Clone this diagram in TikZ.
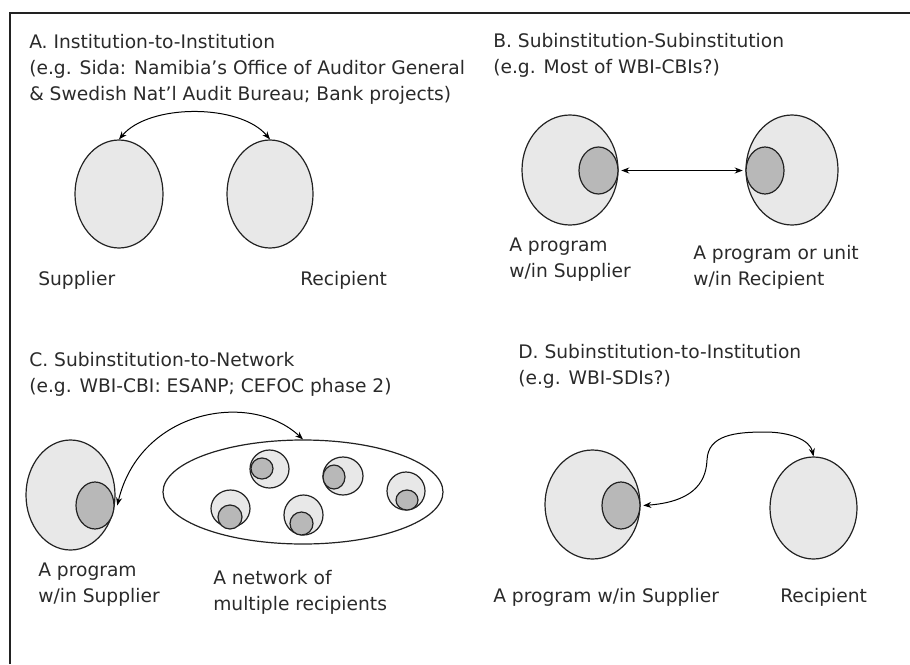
\documentclass[tikz,border=0pt]{standalone}
\usepackage{fontspec}
\setmainfont{DejaVu Sans}
\usetikzlibrary{shapes.geometric,arrows.meta}
\definecolor{lightg}{HTML}{E8E8E8}
\definecolor{darkg}{HTML}{B8B8B8}
\definecolor{inkc}{HTML}{222222}
\definecolor{txtc}{HTML}{2A2A2A}
\tikzset{
  outerell/.style={ellipse, draw=inkc, line width=0.9pt, fill=lightg, inner sep=0pt},
  innerell/.style={ellipse, draw=inkc, line width=0.9pt, fill=darkg, inner sep=0pt},
  netell/.style={ellipse, draw=inkc, line width=0.9pt, fill=white, inner sep=0pt},
  lbl/.style={anchor=base west, inner sep=0pt, align=left, text=txtc,
    font=\fontsize{14}{19.5}\selectfont},
  link/.style={draw=black, line width=0.75pt, {Stealth[length=6pt,width=4.5pt]}-{Stealth[length=6pt,width=4.5pt]}},
  framel/.style={draw=inkc, line width=1.5pt}
}
\begin{document}
\begin{tikzpicture}[x=0.75pt,y=-0.75pt]
\useasboundingbox (0,0) rectangle (910,664);
\draw[framel] (10,664) -- (10,13) -- (910,13);

% Panel A (multi-line nodes: base = last line's baseline)
\node[lbl] (tA) at (29,100) {A. Institution-to-Institution\\(e.g. Sida: Namibia’s Office of Auditor General\\\& Swedish Nat’l Audit Bureau; Bank projects)};
\node[outerell, minimum width=66pt, minimum height=81pt] (aL) at (119,194) {};
\node[outerell, minimum width=64.5pt, minimum height=81pt] (aR) at (270,194) {};
\draw[link] (aL.north) .. controls +(30,-36) and +(-30,-36) .. (aR.north);
\node[lbl] (aLl) at (38,285) {Supplier};
\node[lbl] (aRl) at (300,285) {Recipient};

% Panel B
\node[lbl] (tB) at (493,73) {B. Subinstitution-Subinstitution\\(e.g. Most of WBI-CBIs?)};
\node[outerell, minimum width=72pt, minimum height=82.5pt] (bL) at (570,170) {};
\node[innerell, minimum width=29.25pt, minimum height=35.25pt] (bLi) at (598.5,170.5) {};
\node[outerell, minimum width=69pt, minimum height=82.5pt] (bR) at (792,170) {};
\node[innerell, minimum width=28.5pt, minimum height=35.25pt] (bRi) at (765,170.5) {};
\draw[link] ([xshift=2pt]bLi.east) -- ([xshift=-2pt]bRi.west);
\node[lbl] (bLl) at (509,277) {A program\\w/in Supplier};
\node[lbl] (bRl) at (693,285) {A program or unit\\w/in Recipient};

% Panel C
\node[lbl] (tC) at (29,392) {C. Subinstitution-to-Network\\(e.g. WBI-CBI: ESANP; CEFOC phase 2)};
\node[outerell, minimum width=66.75pt, minimum height=82.5pt] (cL) at (70.5,495) {};
\node[innerell, minimum width=28.5pt, minimum height=35.25pt] (cLi) at (95,505.5) {};
\node[netell, minimum width=210pt, minimum height=78pt] (net) at (303,492) {};
\node[outerell, minimum width=29.25pt, minimum height=28.5pt] (n1) at (269.5,469) {};
\node[innerell, minimum width=16.5pt, minimum height=15.75pt] (n1i) at (262,468.5) {};
\node[outerell, minimum width=30pt, minimum height=28.5pt] (n2) at (343,476) {};
\node[innerell, minimum width=16.5pt, minimum height=18pt] (n2i) at (334,477) {};
\node[outerell, minimum width=28.5pt, minimum height=28.5pt] (n3) at (406,491) {};
\node[innerell, minimum width=16.5pt, minimum height=15pt] (n3i) at (407,500) {};
\node[outerell, minimum width=29.25pt, minimum height=27.75pt] (n4) at (230.5,508.5) {};
\node[innerell, minimum width=18pt, minimum height=18pt] (n4i) at (230,517) {};
\node[outerell, minimum width=29.25pt, minimum height=30pt] (n5) at (303.5,515) {};
\node[innerell, minimum width=17.25pt, minimum height=17.25pt] (n5i) at (301.5,523.5) {};
\draw[link] ([xshift=2pt]cLi.east) .. controls (140,410) and (250,390) .. (net.north);
\node[lbl] (cLl) at (38,602) {A program\\w/in Supplier};
\node[lbl] (cRl) at (213,610) {A network of\\multiple recipients};

% Panel D
\node[lbl] (tD) at (518,384) {D. Subinstitution-to-Institution\\(e.g. WBI-SDIs?)};
\node[outerell, minimum width=71.25pt, minimum height=81.75pt] (dL) at (592.5,504.5) {};
\node[innerell, minimum width=28.5pt, minimum height=35.25pt] (dLi) at (621,505.5) {};
\node[outerell, minimum width=65.25pt, minimum height=76.5pt] (dR) at (813.5,508) {};
\draw[link] ([xshift=2pt]dLi.east) .. controls (690,502) and (706,485) .. (707,460)
  .. controls (708,435) and (735,432) .. (765,432)
  .. controls (790,432) and (810,440) .. (dR.north);
\node[lbl] (dLl) at (493,602) {A program w/in Supplier};
\node[lbl] (dRl) at (780,602) {Recipient};
\end{tikzpicture}
\end{document}
